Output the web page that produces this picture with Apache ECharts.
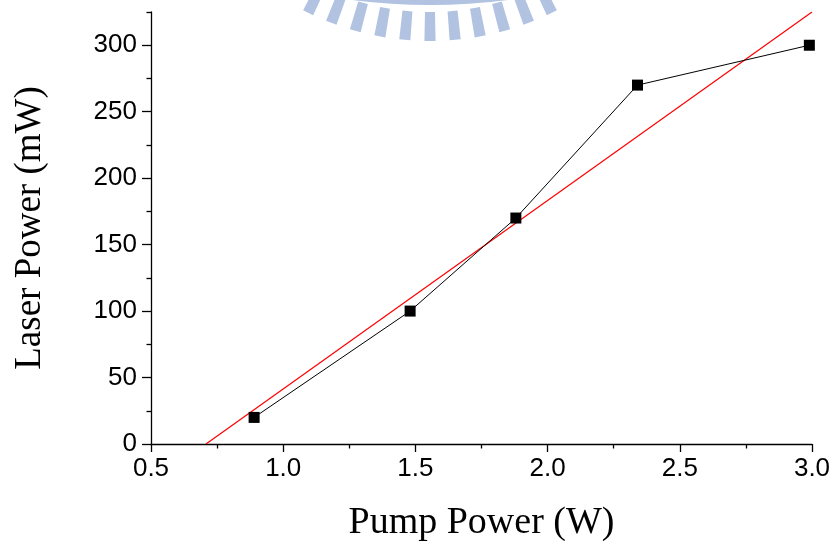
<!DOCTYPE html>
<html>
<head>
<meta charset="utf-8">
<script src="https://cdn.jsdelivr.net/npm/echarts@6/dist/echarts.min.js"></script>
<style>
html,body{margin:0;padding:0;background:#fff;}
#chart{width:834px;height:547px;}
</style>
</head>
<body>
<div id="chart"></div>
<script>
// ---- data ----
const pumpPower = [0.89, 1.48, 1.88, 2.34, 2.99];
const laserPower = [20, 100, 170, 270, 300];
const fitX = [0.708, 3.0];
const fitY = [0, 325];
const xTicks = [0.5, 1.0, 1.5, 2.0, 2.5, 3.0];
const yTicks = [0, 50, 100, 150, 200, 250, 300];
const yMinorTicks = [25, 75, 125, 175, 225, 275, 325];

// ---- decorative watermark (light blue logo fragment) ----
const wmColor = '#b1c3e1';
const graphics = [];
(function(){
  const cx = 430, cy = -237, r1 = 249, r2 = 278;
  const halfA = 1.15 * Math.PI / 180;
  for (let i = -5; i <= 5; i++) {
    const a = i * 5.2 * Math.PI / 180;
    const pts = [];
    [[r1, a - halfA], [r2, a - halfA], [r2, a + halfA], [r1, a + halfA]].forEach(function(p){
      pts.push([cx + p[0] * Math.sin(p[1]), cy + p[0] * Math.cos(p[1])]);
    });
    graphics.push({type: 'polygon', shape: {points: pts}, style: {fill: wmColor}, silent: true, z: 0});
  }
  graphics.push({type: 'sector', shape: {cx: 430, cy: -600, r0: 586, r: 605, startAngle: Math.PI/2 - 0.2, endAngle: Math.PI/2 + 0.2}, style: {fill: wmColor}, silent: true, z: 0});
})();

const chart = echarts.init(document.getElementById('chart'));
const axisColor = '#000';
chart.setOption({
  animation: false,
  backgroundColor: '#fff',
  graphic: graphics,
  grid: {left: 151, right: 22, top: 12, bottom: 96, containLabel: false},
  xAxis: {
    type: 'value', min: 0.5, max: 3.0, interval: 0.5,
    name: 'Pump Power (W)', nameLocation: 'middle', nameGap: 60,
    nameTextStyle: {fontFamily: 'Liberation Serif', fontSize: 38, color: '#000'},
    axisLine: {show: true, onZero: false, lineStyle: {color: axisColor, width: 1.3}},
    axisTick: {show: true, inside: false, length: 8, lineStyle: {color: axisColor, width: 1.3}},
    minorTick: {show: true, splitNumber: 2, length: 4.5, lineStyle: {color: axisColor, width: 1.3}},
    axisLabel: {fontFamily: 'Liberation Sans', fontSize: 26, color: '#000', margin: 12,
      formatter: function(v){ return v.toFixed(1); }},
    splitLine: {show: false}
  },
  yAxis: [{
    type: 'value', min: 0, max: 325, position: 'left',
    name: 'Laser Power (mW)', nameLocation: 'middle', nameGap: 102,
    nameTextStyle: {fontFamily: 'Liberation Serif', fontSize: 37, color: '#000'},
    axisLine: {show: true, onZero: false, lineStyle: {color: axisColor, width: 1.3}},
    axisTick: {show: true, inside: false, length: 9, customValues: yTicks, lineStyle: {color: axisColor, width: 1.3}},
    axisLabel: {fontFamily: 'Liberation Sans', fontSize: 26, color: '#000', margin: 14, customValues: yTicks},
    splitLine: {show: false}
  }, {
    type: 'value', min: 0, max: 325, position: 'left', offset: 0,
    axisLine: {show: false},
    axisTick: {show: true, inside: false, length: 4.5, customValues: yMinorTicks, lineStyle: {color: axisColor, width: 1.3}},
    axisLabel: {show: false},
    splitLine: {show: false}
  }],
  series: [{
    type: 'line',
    yAxisIndex: 0,
    data: fitX.map(function(x, i){ return [x, fitY[i]]; }),
    showSymbol: false, symbol: 'none',
    lineStyle: {color: '#ff0000', width: 1.2},
    z: 2
  }, {
    type: 'line',
    yAxisIndex: 0,
    data: pumpPower.map(function(x, i){ return [x, laserPower[i]]; }),
    symbol: 'rect', symbolSize: 11,
    itemStyle: {color: '#000'},
    lineStyle: {color: '#000', width: 1},
    z: 3
  }]
});
</script>
</body>
</html>
